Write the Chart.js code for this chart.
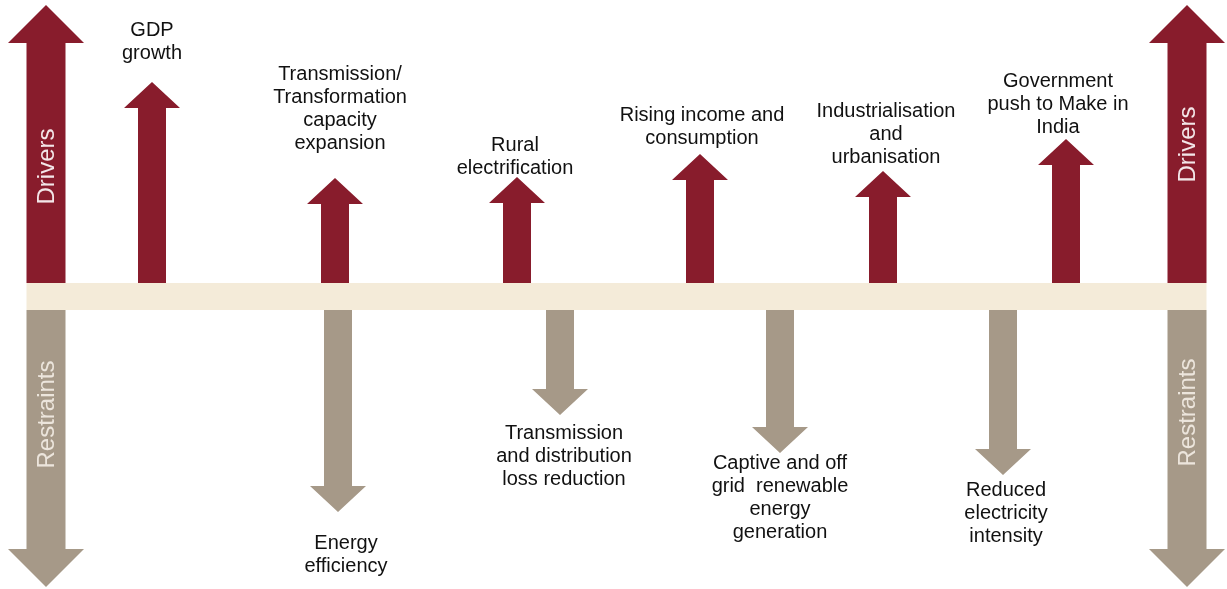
<!DOCTYPE html>
<html>
<head>
<meta charset="utf-8">
<script src="https://cdn.jsdelivr.net/npm/chart.js@4.4.1/dist/chart.umd.min.js"></script>
<style>
  html, body { margin: 0; padding: 0; background: #ffffff; }
  #wrap { width: 1227px; height: 589px; }
</style>
</head>
<body>
<div id="wrap"><canvas id="arrows" width="1227" height="589"></canvas></div>
<script>
// Drivers (push demand up) and restraints (pull demand down)
const driverLabels = [
  ['GDP', 'growth'],
  ['Transmission/', 'Transformation', 'capacity', 'expansion'],
  ['Rural', 'electrification'],
  ['Rising income and', 'consumption'],
  ['Industrialisation', 'and', 'urbanisation'],
  ['Government', 'push to Make in', 'India']
];
const driverX = [152, 335, 517, 700, 883, 1066];
const driverStrength = [201, 105, 106, 129, 112, 144];

const restraintLabels = [
  ['Energy', 'efficiency'],
  ['Transmission', 'and distribution', 'loss reduction'],
  ['Captive and off', 'grid  renewable', 'energy', 'generation'],
  ['Reduced', 'electricity', 'intensity']
];
const restraintX = [338, 560, 780, 1003];
const restraintStrength = [202, 105, 143, 165];

// the two big frame arrows at each end
const frameX = [46, 1187];
const frameUp = [278, 278];
const frameDown = [277, 277];

// label placement tweaks (gap from arrow tip, horizontal nudge)
const driverGap = [29, 35, 9, 16, 14, 12];
const driverShift = [0, 5, -2, 2, 3, -8];
const restraintGap = [31, 18, 10, 15];
const restraintShift = [8, 4, 0, 3];

const RED = '#881c2c';
const TAN = '#a69988';
const BAND = '#f4ebd9';
const HALF_BAND = 13.5;

const toPoints = (xs, vals, sign) => xs.map((x, i) => ({ x, y: sign * (HALF_BAND + vals[i]) }));

const arrowPlugin = {
  id: 'arrowPlugin',
  beforeDatasetsDraw(chart) {
    const { ctx, scales: { x, y } } = chart;

    // band
    const bx0 = x.getPixelForValue(frameX[0] - 19.5);
    const bx1 = x.getPixelForValue(frameX[1] + 19.5);
    const by0 = y.getPixelForValue(HALF_BAND);
    const by1 = y.getPixelForValue(-HALF_BAND);
    ctx.save();
    ctx.fillStyle = BAND;
    ctx.fillRect(bx0, by0, bx1 - bx0, by1 - by0);

    const drawArrow = (pt, up, color, shaft, head, headH) => {
      const cx = x.getPixelForValue(pt.x);
      const tip = y.getPixelForValue(pt.y);
      const base = y.getPixelForValue(up ? HALF_BAND : -HALF_BAND);
      const dir = up ? 1 : -1;
      const neck = tip + dir * headH;
      ctx.fillStyle = color;
      ctx.beginPath();
      ctx.moveTo(cx - shaft / 2, base);
      ctx.lineTo(cx - shaft / 2, neck);
      ctx.lineTo(cx - head / 2, neck);
      ctx.lineTo(cx, tip);
      ctx.lineTo(cx + head / 2, neck);
      ctx.lineTo(cx + shaft / 2, neck);
      ctx.lineTo(cx + shaft / 2, base);
      ctx.closePath();
      ctx.fill();
    };

    chart.data.datasets.forEach(ds => {
      ds.data.forEach(pt => drawArrow(pt, ds.up, ds.arrowColor, ds.shaft, ds.head, ds.headH));
    });

    // texts
    ctx.font = "20px 'Liberation Sans', Arial, sans-serif";
    ctx.fillStyle = '#111111';
    ctx.textAlign = 'center';
    ctx.textBaseline = 'middle';
    const lh = 23;
    driverLabels.forEach((lines, i) => {
      const cx = x.getPixelForValue(driverX[i]) + driverShift[i];
      const tip = y.getPixelForValue(HALF_BAND + driverStrength[i]);
      const last = tip - driverGap[i];
      lines.forEach((t, k) => ctx.fillText(t, cx, last - (lines.length - 1 - k) * lh));
    });
    restraintLabels.forEach((lines, i) => {
      const cx = x.getPixelForValue(restraintX[i]) + restraintShift[i];
      const tip = y.getPixelForValue(-HALF_BAND - restraintStrength[i]);
      const first = tip + restraintGap[i];
      lines.forEach((t, k) => ctx.fillText(t, cx, first + k * lh));
    });

    // vertical captions in the frame arrows
    const vert = (txt, xv, yv, color) => {
      ctx.save();
      ctx.translate(x.getPixelForValue(xv), y.getPixelForValue(yv));
      ctx.rotate(-Math.PI / 2);
      ctx.font = "24px 'Liberation Sans', Arial, sans-serif";
      ctx.fillStyle = color;
      ctx.fillText(txt, 0, 1);
      ctx.restore();
    };
    vert('Drivers', frameX[0], 130, '#f3e6e8');
    vert('Drivers', frameX[1], 152, '#f3e6e8');
    vert('Restraints', frameX[0], -118, '#ece5dc');
    vert('Restraints', frameX[1], -116, '#ece5dc');
    ctx.restore();
  }
};

new Chart(document.getElementById('arrows'), {
  type: 'scatter',
  data: {
    datasets: [
      { label: 'Frame up', data: toPoints(frameX, frameUp, 1), up: true, arrowColor: RED, shaft: 39, head: 76, headH: 38 },
      { label: 'Frame down', data: toPoints(frameX, frameDown, -1), up: false, arrowColor: TAN, shaft: 39, head: 76, headH: 38 },
      { label: 'Drivers', data: toPoints(driverX, driverStrength, 1), up: true, arrowColor: RED, shaft: 28, head: 56, headH: 26 },
      { label: 'Restraints', data: toPoints(restraintX, restraintStrength, -1), up: false, arrowColor: TAN, shaft: 28, head: 56, headH: 26 }
    ]
  },
  options: {
    responsive: false,
    animation: false,
    layout: { padding: 0 },
    elements: { point: { radius: 0, hoverRadius: 0 } },
    plugins: { legend: { display: false }, tooltip: { enabled: false } },
    scales: {
      x: { type: 'linear', min: 0, max: 1227, display: false },
      y: { type: 'linear', min: -292.5, max: 296.5, display: false }
    }
  },
  plugins: [arrowPlugin]
});
</script>
</body>
</html>
